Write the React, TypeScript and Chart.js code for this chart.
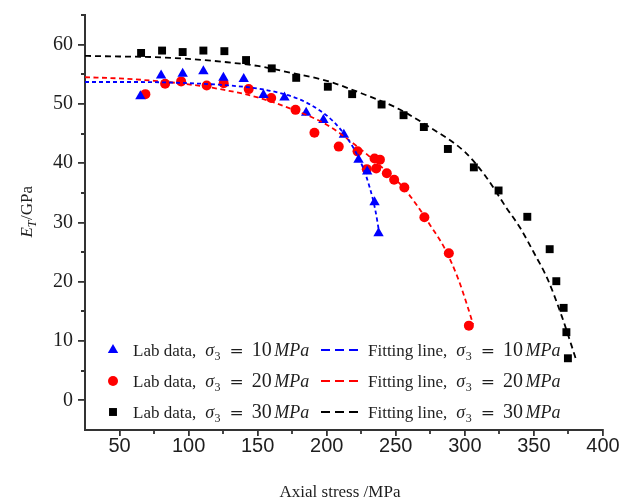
import React, { useEffect, useRef } from 'react';
import { Chart, registerables } from 'chart.js';

Chart.register(...registerables);

// ---------------- data ----------------
const CONFINING_MPA = [10, 20, 30];
const SERIES_COLORS = ['#0000ff', '#ff0000', '#000000'];

// Lab data, sigma3 = 10 MPa
const LAB10_X = [65.1, 80.1, 95.7, 110.7, 125.2, 139.9, 154.2, 169.4, 185.1, 197.6, 212.4, 223.0, 229.3, 234.6, 237.5];
const LAB10_Y = [51.3, 54.8, 55.1, 55.5, 54.4, 54.2, 51.5, 51.1, 48.5, 47.3, 44.8, 40.6, 38.6, 33.4, 28.2];

// Lab data, sigma3 = 20 MPa
const LAB20_X = [68.7, 83.0, 94.6, 113.1, 125.4, 143.5, 159.8, 177.4, 191.1, 208.7, 222.3, 229.0, 234.6, 238.5, 235.8, 243.5, 248.8, 256.2, 270.7, 288.4, 302.9];
const LAB20_Y = [51.65, 53.4, 53.8, 53.1, 53.5, 52.5, 51.0, 49.0, 45.15, 42.8, 42.0, 39.0, 40.8, 40.6, 39.1, 38.3, 37.2, 35.9, 30.9, 24.8, 12.6];

// Lab data, sigma3 = 30 MPa
const LAB30_X = [65.6, 80.8, 95.7, 110.7, 125.9, 141.6, 160.2, 177.9, 200.8, 218.4, 239.7, 255.6, 270.3, 287.7, 306.5, 324.4, 345.2, 361.4, 366.2, 371.5, 373.5, 374.6];
const LAB30_Y = [58.6, 59.0, 58.75, 59.0, 58.9, 57.4, 56.0, 54.4, 52.9, 51.65, 49.9, 48.1, 46.1, 42.4, 39.3, 35.4, 30.96, 25.5, 20.1, 15.6, 11.5, 7.1];

// Fitting lines
const FIT10_X = [25, 60, 100, 130, 150, 165, 180, 195, 205, 213, 220, 226, 231, 235, 238];
const FIT10_Y = [53.7, 53.7, 53.5, 53.1, 52.6, 51.9, 50.8, 48.9, 47.0, 44.8, 42.3, 39.4, 36.0, 32.3, 28.3];

const FIT20_X = [25, 50, 75, 100, 125, 150, 175, 200, 220, 240, 255, 265, 275, 285, 295, 302, 306];
const FIT20_Y = [54.5, 54.3, 53.9, 53.3, 52.4, 51.1, 49.1, 46.5, 43.2, 39.3, 36.0, 33.0, 29.5, 25.8, 20.6, 15.8, 12.8];

const FIT30_X = [25, 50, 75, 100, 125, 150, 175, 200, 225, 250, 275, 300, 315, 330, 340, 350, 360, 370, 377, 381];
const FIT30_Y = [58.1, 58.0, 57.9, 57.6, 57.1, 56.4, 55.2, 53.9, 51.8, 49.4, 46.0, 41.9, 37.8, 32.5, 29.1, 24.9, 20.4, 14.3, 9.4, 6.5];

// axes
const X_MIN = 25;
const X_MAX = 400;
const Y_MIN = -5;
const Y_MAX = 65;
const X_TICKS = [50, 100, 150, 200, 250, 300, 350, 400];
const X_MINOR = [75, 125, 175, 225, 275, 325, 375];
const Y_TICKS = [0, 10, 20, 30, 40, 50, 60];
const Y_MINOR = [5, 15, 25, 35, 45, 55, 65];
const X_TITLE = 'Axial stress /MPa';
const Y_TITLE_MAIN = 'E';
const Y_TITLE_SUB = 'T';
const Y_TITLE_REST = '/GPa';
const LAB_PREFIX = 'Lab data,';
const FIT_PREFIX = 'Fitting line,';

// ---------------- styles ----------------
const AXIS_COLOR = '#333333';
const TEXT_COLOR = '#1e1e1e';
const SERIF = '"Liberation Serif", "Times New Roman", serif';
const NARROW = '"Liberation Sans Narrow", "Arial Narrow", "Liberation Sans", Arial, sans-serif';
const MARKERS = ['triangle', 'circle', 'rect'];
const MARKER_R = [6, 5, 5.6];
const LINE_DASH = [[4, 3], [5, 3.5], [6, 4]];

const pts = (xs: number[], ys: number[]) => xs.map((x, i) => ({ x, y: ys[i] }));

function drawMarker(ctx: CanvasRenderingContext2D, style: string, x: number, y: number, r: number, color: string) {
  ctx.fillStyle = color;
  ctx.beginPath();
  if (style === 'triangle') {
    for (let k = 0; k < 3; k++) {
      const a = (k * 2 * Math.PI) / 3;
      const px = x + Math.sin(a) * r;
      const py = y - Math.cos(a) * r;
      if (k === 0) ctx.moveTo(px, py);
      else ctx.lineTo(px, py);
    }
    ctx.closePath();
  } else if (style === 'circle') {
    ctx.arc(x, y, r, 0, Math.PI * 2);
  } else {
    const s = r * Math.SQRT1_2;
    ctx.rect(x - s, y - s, 2 * s, 2 * s);
  }
  ctx.fill();
}

function drawMathLabel(ctx: CanvasRenderingContext2D, x: number, baseline: number, prefix: string, value: number) {
  ctx.fillStyle = TEXT_COLOR;
  ctx.textAlign = 'left';
  ctx.textBaseline = 'alphabetic';
  ctx.font = `17px ${SERIF}`;
  ctx.fillText(prefix, x, baseline);
  let cx = x + ctx.measureText(prefix).width + 9;
  ctx.font = `italic 18px ${SERIF}`;
  ctx.fillText('σ', cx, baseline);
  cx += ctx.measureText('σ').width + 0.5;
  ctx.font = `12px ${SERIF}`;
  ctx.fillText('3', cx, baseline + 4);
  cx += ctx.measureText('3').width + 9;
  ctx.font = `17px "DejaVu Serif", ${SERIF}`;
  ctx.fillText('=', cx, baseline);
  cx += ctx.measureText('=').width + 8;
  ctx.font = `20px ${SERIF}`;
  const v = String(value);
  ctx.fillText(v, cx, baseline);
  cx += ctx.measureText(v).width + 2.5;
  ctx.font = `italic 18px ${SERIF}`;
  ctx.fillText('MPa', cx, baseline);
}

const overlayPlugin = {
  id: 'overlay',
  afterDraw(chart: any) {
    const ctx: CanvasRenderingContext2D = chart.ctx;
    const xs = chart.scales.x;
    const ys = chart.scales.y;
    const area = chart.chartArea;
    ctx.save();

    // minor ticks
    ctx.strokeStyle = AXIS_COLOR;
    ctx.lineWidth = 1.8;
    ctx.beginPath();
    X_MINOR.forEach((v) => {
      const px = Math.round(xs.getPixelForValue(v));
      ctx.moveTo(px, area.bottom);
      ctx.lineTo(px, area.bottom + 4);
    });
    Y_MINOR.forEach((v) => {
      const py = Math.round(ys.getPixelForValue(v));
      ctx.moveTo(area.left, py);
      ctx.lineTo(area.left - 4, py);
    });
    ctx.stroke();

    // x title
    ctx.fillStyle = TEXT_COLOR;
    ctx.font = `17px ${SERIF}`;
    ctx.textAlign = 'center';
    ctx.textBaseline = 'middle';
    ctx.fillText(X_TITLE, 340, 493);

    // y title (rotated, with subscript)
    ctx.save();
    ctx.translate(26, 212);
    ctx.rotate(-Math.PI / 2);
    ctx.textAlign = 'left';
    ctx.textBaseline = 'alphabetic';
    ctx.font = `italic 17px ${SERIF}`;
    const wE = ctx.measureText(Y_TITLE_MAIN).width;
    ctx.font = `italic 12px ${SERIF}`;
    const wT = ctx.measureText(Y_TITLE_SUB).width;
    ctx.font = `17px ${SERIF}`;
    const wR = ctx.measureText(Y_TITLE_REST).width;
    const sx = -(wE + wT + wR) / 2;
    ctx.font = `italic 17px ${SERIF}`;
    ctx.fillText(Y_TITLE_MAIN, sx, 6);
    ctx.font = `italic 12px ${SERIF}`;
    ctx.fillText(Y_TITLE_SUB, sx + wE, 10);
    ctx.font = `17px ${SERIF}`;
    ctx.fillText(Y_TITLE_REST, sx + wE + wT + 0.5, 6);
    ctx.restore();

    // legend
    const rowY = [350, 381, 412];
    CONFINING_MPA.forEach((p, i) => {
      const y = rowY[i];
      const color = SERIES_COLORS[i];
      drawMarker(ctx, MARKERS[i], 113, y, MARKER_R[i], color);
      drawMathLabel(ctx, 133, y + 5.5, LAB_PREFIX, p);
      ctx.strokeStyle = color;
      ctx.lineWidth = 2;
      ctx.setLineDash([9, 5]);
      ctx.beginPath();
      ctx.moveTo(321, y);
      ctx.lineTo(358, y);
      ctx.stroke();
      ctx.setLineDash([]);
      drawMathLabel(ctx, 368, y + 5.5, FIT_PREFIX, p);
    });

    ctx.restore();
  },
};

export default function App() {
  const ref = useRef<HTMLCanvasElement>(null);

  useEffect(() => {
    const canvas = ref.current;
    if (!canvas) return;

    const labX = [LAB10_X, LAB20_X, LAB30_X];
    const labY = [LAB10_Y, LAB20_Y, LAB30_Y];
    const fitX = [FIT10_X, FIT20_X, FIT30_X];
    const fitY = [FIT10_Y, FIT20_Y, FIT30_Y];

    const labSets = CONFINING_MPA.map((p, i) => ({
      label: `Lab data, σ3 = ${p}MPa`,
      data: pts(labX[i], labY[i]),
      showLine: false,
      pointStyle: MARKERS[i],
      pointRadius: MARKER_R[i],
      pointHoverRadius: MARKER_R[i],
      backgroundColor: SERIES_COLORS[i],
      borderColor: SERIES_COLORS[i],
      pointBorderWidth: 0,
      order: 2,
    }));
    const fitSets = CONFINING_MPA.map((p, i) => ({
      label: `Fitting line, σ3 = ${p}MPa`,
      data: pts(fitX[i], fitY[i]),
      showLine: true,
      pointRadius: 0,
      pointHoverRadius: 0,
      borderColor: SERIES_COLORS[i],
      backgroundColor: SERIES_COLORS[i],
      borderWidth: 1.8,
      borderDash: LINE_DASH[i],
      cubicInterpolationMode: 'monotone',
      fill: false,
      order: 1,
    }));

    const chart = new Chart(canvas, {
      type: 'scatter',
      data: { datasets: [...labSets, ...fitSets] as any },
      options: {
        animation: false,
        responsive: false,
        devicePixelRatio: 1,
        events: [],
        layout: { padding: { top: 6, right: 28, left: 0, bottom: 0 } },
        plugins: {
          legend: { display: false },
          tooltip: { enabled: false },
          title: { display: false },
        },
        scales: {
          x: {
            type: 'linear',
            min: X_MIN,
            max: X_MAX,
            afterBuildTicks: (scale: any) => {
              scale.ticks = X_TICKS.map((v) => ({ value: v }));
            },
            afterFit: (scale: any) => {
              scale.height = 74;
            },
            grid: {
              display: true,
              drawOnChartArea: false,
              drawTicks: true,
              tickLength: 6,
              color: AXIS_COLOR,
              lineWidth: 1.8,
            },
            border: { display: true, color: AXIS_COLOR, width: 2 },
            ticks: {
              color: TEXT_COLOR,
              padding: 0,
              maxRotation: 0,
              autoSkip: false,
              font: { family: NARROW, size: 20, lineHeight: 1 },
            },
          },
          y: {
            type: 'linear',
            min: Y_MIN,
            max: Y_MAX,
            afterBuildTicks: (scale: any) => {
              scale.ticks = Y_TICKS.map((v) => ({ value: v }));
            },
            afterFit: (scale: any) => {
              scale.width = 85;
            },
            grid: {
              display: true,
              drawOnChartArea: false,
              drawTicks: true,
              tickLength: 7,
              color: AXIS_COLOR,
              lineWidth: 1.8,
            },
            border: { display: true, color: AXIS_COLOR, width: 2 },
            ticks: {
              color: TEXT_COLOR,
              padding: 5,
              autoSkip: false,
              font: { family: SERIF, size: 20, lineHeight: 1 },
            },
          },
        },
      } as any,
      plugins: [overlayPlugin],
    });

    return () => chart.destroy();
  }, []);

  return (
    <div style={{ position: 'fixed', left: 0, top: 0, width: 631, height: 504, background: '#ffffff' }}>
      <canvas ref={ref} width={631} height={504} style={{ display: 'block', width: 631, height: 504 }} />
    </div>
  );
}
